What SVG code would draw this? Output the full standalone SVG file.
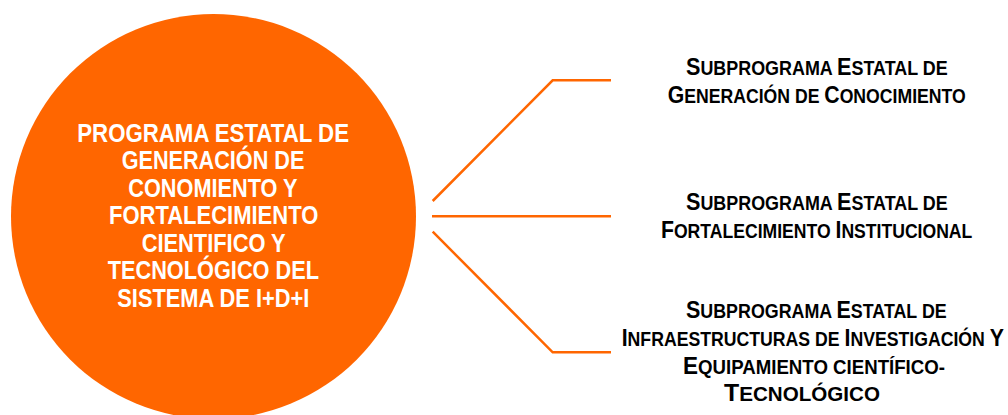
<svg xmlns="http://www.w3.org/2000/svg" width="1008" height="415" viewBox="0 0 1008 415">
<style>
.main{font-family:"Liberation Sans Narrow","Liberation Sans",Arial,sans-serif;font-weight:bold;font-size:25px;fill:#fff;text-anchor:start}
.sub{font-family:"Liberation Sans Narrow","Liberation Sans",Arial,sans-serif;font-weight:bold;fill:#000;font-size:19.5px;text-anchor:start}
.b{font-size:23.5px}
.conn{stroke:#FF6600;fill:none;stroke-width:2.5}
</style>
<rect width="1008" height="415" fill="#fff"/>
<g id="main-node">
<circle cx="213.5" cy="216.5" r="202.5" fill="#FF6600"/>
<text class="main" x="77.3" y="141.7" textLength="271.7" lengthAdjust="spacingAndGlyphs">PROGRAMA ESTATAL DE</text>
<text class="main" x="121.7" y="169" textLength="182.7" lengthAdjust="spacingAndGlyphs">GENERACIÓN DE</text>
<text class="main" x="128.3" y="196.7" textLength="169.3" lengthAdjust="spacingAndGlyphs">CONOMIENTO Y</text>
<text class="main" x="109" y="224.3" textLength="209.3" lengthAdjust="spacingAndGlyphs">FORTALECIMIENTO</text>
<text class="main" x="141.7" y="251.7" textLength="144" lengthAdjust="spacingAndGlyphs">CIENTIFICO Y</text>
<text class="main" x="107.7" y="279.3" textLength="211.3" lengthAdjust="spacingAndGlyphs">TECNOLÓGICO DEL</text>
<text class="main" x="117.3" y="306.7" textLength="192" lengthAdjust="spacingAndGlyphs">SISTEMA DE I+D+I</text>
</g>
<g id="connectors">
<polyline class="conn" points="432.7,201 552.7,80.3 611,80.3"/>
<line class="conn" x1="432" y1="216.3" x2="611" y2="216.3"/>
<polyline class="conn" points="432.7,231.7 552.7,352.3 611,352.3"/>
</g>
<g id="sub1">
<text class="sub" x="686" y="75" textLength="261.7" lengthAdjust="spacingAndGlyphs"><tspan class="b">S</tspan>UBPROGRAMA <tspan class="b">E</tspan>STATAL DE</text>
<text class="sub" x="667.7" y="102.7" textLength="298" lengthAdjust="spacingAndGlyphs"><tspan class="b">G</tspan>ENERACIÓN DE <tspan class="b">C</tspan>ONOCIMIENTO</text>
</g>
<g id="sub2">
<text class="sub" x="686" y="210" textLength="261.7" lengthAdjust="spacingAndGlyphs"><tspan class="b">S</tspan>UBPROGRAMA <tspan class="b">E</tspan>STATAL DE</text>
<text class="sub" x="661" y="237.7" textLength="311.3" lengthAdjust="spacingAndGlyphs"><tspan class="b">F</tspan>ORTALECIMIENTO <tspan class="b">I</tspan>NSTITUCIONAL</text>
</g>
<g id="sub3">
<text class="sub" x="686" y="318.3" textLength="260.7" lengthAdjust="spacingAndGlyphs"><tspan class="b">S</tspan>UBPROGRAMA <tspan class="b">E</tspan>STATAL DE</text>
<text class="sub" x="621.7" y="346" textLength="382.3" lengthAdjust="spacingAndGlyphs"><tspan class="b">I</tspan>NFRAESTRUCTURAS DE <tspan class="b">I</tspan>NVESTIGACIÓN <tspan class="b">Y</tspan></text>
<text class="sub" x="683" y="374" textLength="262" lengthAdjust="spacingAndGlyphs"><tspan class="b">E</tspan>QUIPAMIENTO CIENTÍFICO-</text>
<text class="sub" x="724" y="401" textLength="156" lengthAdjust="spacingAndGlyphs"><tspan class="b">T</tspan>ECNOLÓGICO</text>
</g>
</svg>
